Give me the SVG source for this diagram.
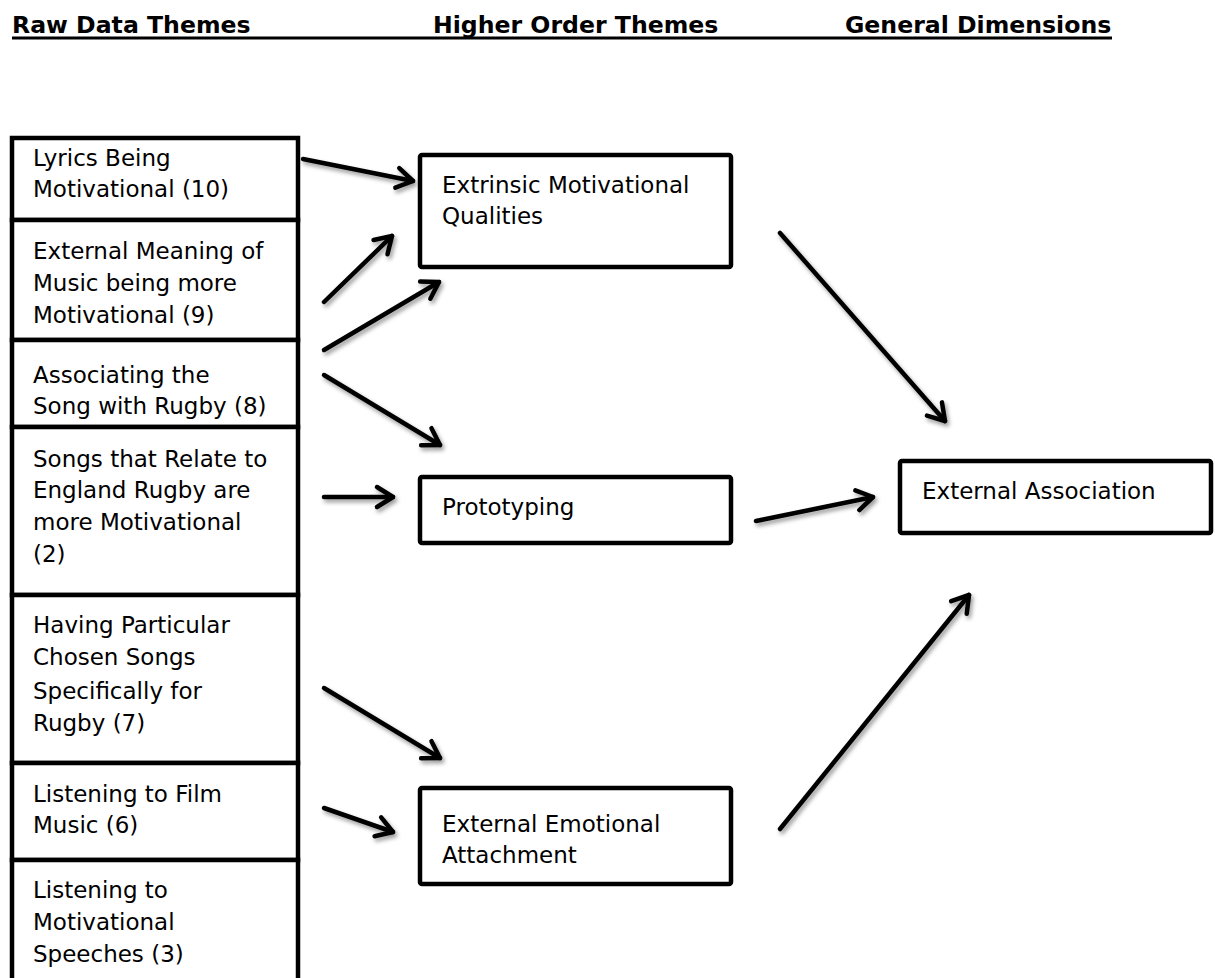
<svg xmlns="http://www.w3.org/2000/svg" width="1215" height="978" viewBox="0 0 1215 978">
  <style>
    .hdr { font-family: "DejaVu Sans", Verdana, sans-serif; font-size: 23.6px; font-weight: bold; fill: #000; }
    .lbl { font-family: "DejaVu Sans", Verdana, sans-serif; font-size: 23px; fill: #000; }
    .box { fill: #fff; stroke: #000; stroke-width: 4.5; }
    .hbox { fill: #fff; stroke: #000; stroke-width: 4.5; }
    .conn line { stroke: #000; stroke-width: 4.5; stroke-linecap: round; marker-end: url(#head); }
  </style>
  <defs>
    <marker id="head" markerUnits="userSpaceOnUse" viewBox="-22 -14 26 28" refX="0" refY="0" markerWidth="26" markerHeight="28" orient="auto" overflow="visible">
      <path d="M-16,-10 L0,0 L-16,10" fill="none" stroke="#000" stroke-width="4.5" stroke-linecap="round" stroke-linejoin="round"/>
    </marker>
    <filter id="shadow" x="-20%" y="-20%" width="140%" height="140%">
      <feDropShadow dx="2" dy="3" stdDeviation="2" flood-color="#000" flood-opacity="0.4"/>
    </filter>
  </defs>

  <!-- column headings with a shared underline -->
  <g id="headings">
    <text class="hdr" x="12" y="33">Raw Data Themes</text>
    <text class="hdr" x="433" y="33">Higher Order Themes</text>
    <text class="hdr" x="845" y="33">General Dimensions</text>
    <line x1="12" y1="38" x2="1112" y2="38" stroke="#000" stroke-width="3"/>
  </g>

  <!-- raw data themes -->
  <g id="raw-lyrics">
    <rect class="box" x="12" y="138" width="286" height="82"/>
    <text class="lbl" x="33" y="166">Lyrics Being</text>
    <text class="lbl" x="33" y="197">Motivational (10)</text>
  </g>
  <g id="raw-external-meaning">
    <rect class="box" x="12" y="220" width="286" height="120"/>
    <text class="lbl" x="33" y="259">External Meaning of</text>
    <text class="lbl" x="33" y="291">Music being more</text>
    <text class="lbl" x="33" y="323">Motivational (9)</text>
  </g>
  <g id="raw-associating">
    <rect class="box" x="12" y="340" width="286" height="87"/>
    <text class="lbl" x="33" y="383">Associating the</text>
    <text class="lbl" x="33" y="414">Song with Rugby (8)</text>
  </g>
  <g id="raw-england">
    <rect class="box" x="12" y="427" width="286" height="168"/>
    <text class="lbl" x="33" y="467">Songs that Relate to</text>
    <text class="lbl" x="33" y="498">England Rugby are</text>
    <text class="lbl" x="33" y="530">more Motivational</text>
    <text class="lbl" x="33" y="562">(2)</text>
  </g>
  <g id="raw-chosen-songs">
    <rect class="box" x="12" y="595" width="286" height="168"/>
    <text class="lbl" x="33" y="633">Having Particular</text>
    <text class="lbl" x="33" y="665">Chosen Songs</text>
    <text class="lbl" x="33" y="699">Specifically for</text>
    <text class="lbl" x="33" y="731">Rugby (7)</text>
  </g>
  <g id="raw-film-music">
    <rect class="box" x="12" y="763" width="286" height="97"/>
    <text class="lbl" x="33" y="802">Listening to Film</text>
    <text class="lbl" x="33" y="833">Music (6)</text>
  </g>
  <g id="raw-speeches">
    <rect class="box" x="12" y="860" width="286" height="130"/>
    <text class="lbl" x="33" y="898">Listening to</text>
    <text class="lbl" x="33" y="930">Motivational</text>
    <text class="lbl" x="33" y="962">Speeches (3)</text>
  </g>

  <!-- higher order themes -->
  <g id="hot-extrinsic">
    <rect class="hbox" x="420" y="155" width="311" height="112" rx="2"/>
    <text class="lbl" x="442" y="193">Extrinsic Motivational</text>
    <text class="lbl" x="442" y="224">Qualities</text>
  </g>
  <g id="hot-prototyping">
    <rect class="hbox" x="420" y="477" width="311" height="66" rx="2"/>
    <text class="lbl" x="442" y="515">Prototyping</text>
  </g>
  <g id="hot-emotional">
    <rect class="hbox" x="420" y="788" width="311" height="96" rx="2"/>
    <text class="lbl" x="442" y="832">External Emotional</text>
    <text class="lbl" x="442" y="863">Attachment</text>
  </g>

  <!-- general dimension -->
  <g id="gd-external-association">
    <rect class="hbox" x="900" y="461" width="311" height="72" rx="2"/>
    <text class="lbl" x="922" y="499">External Association</text>
  </g>

  <!-- connectors -->
  <g id="connectors" class="conn" filter="url(#shadow)">
    <line x1="303" y1="159" x2="413" y2="181"/>
    <line x1="324" y1="302" x2="392" y2="236"/>
    <line x1="324" y1="350" x2="439" y2="282"/>
    <line x1="324" y1="375" x2="440" y2="445"/>
    <line x1="324" y1="497" x2="393" y2="497"/>
    <line x1="324" y1="688" x2="440" y2="758"/>
    <line x1="324" y1="808" x2="393" y2="832"/>
    <line x1="780" y1="233" x2="945" y2="421"/>
    <line x1="756" y1="521" x2="873" y2="497"/>
    <line x1="780" y1="829" x2="969" y2="595"/>
  </g>
</svg>
